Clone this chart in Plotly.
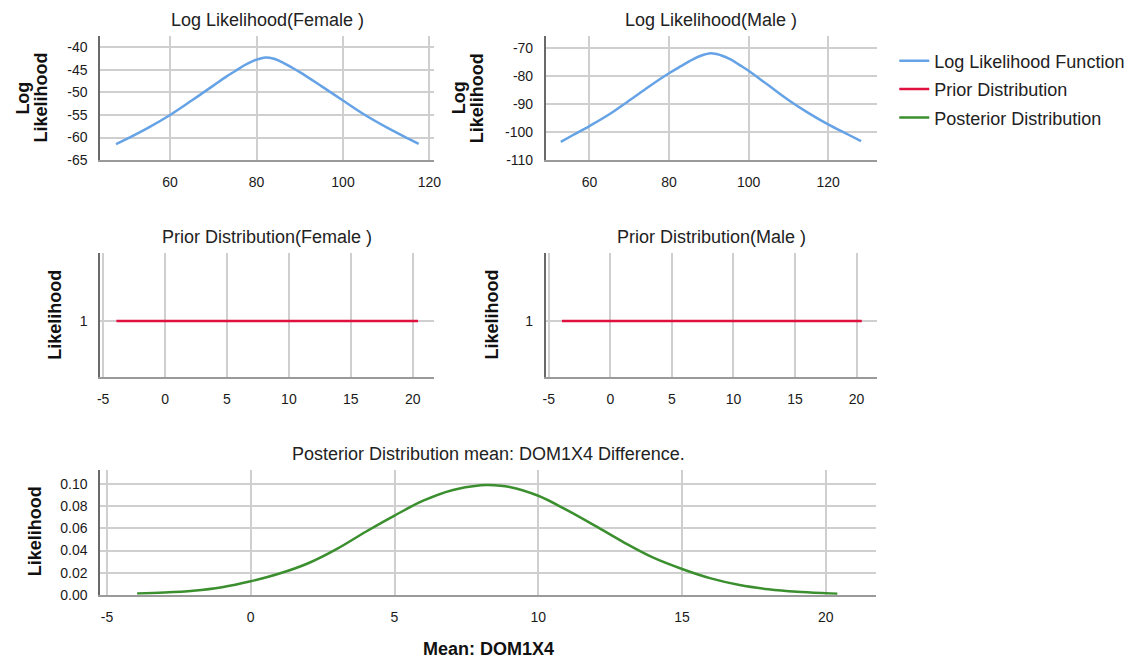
import plotly.graph_objects as go

# ---------------- data ----------------
female_mean = [47.5, 50, 55, 60, 65, 70, 73, 75, 77, 79, 80.5, 82.2, 84, 86, 88, 90,
               95, 100, 105, 110, 115, 117.5]
female_loglik = [-61.45, -60.3, -57.8, -55.0, -51.8, -48.5, -46.5, -45.3, -44.1, -43.1, -42.6,
                 -42.25, -42.55, -43.35, -44.4, -45.5, -48.6, -51.8, -54.95, -57.7, -60.2, -61.4]

male_mean = [52.8, 56, 60, 65, 70, 75, 80, 83, 86, 88, 90.5, 93, 95.5, 98, 100, 105, 110,
             115, 120, 125, 128.3]
male_loglik = [-103.5, -101.0, -97.9, -93.7, -88.8, -83.8, -79.1, -76.6, -74.2, -72.9, -72.0,
               -72.7, -74.2, -76.4, -78.2, -83.4, -88.6, -93.2, -97.3, -100.9, -103.3]

prior_x = [-3.93, 20.43]
prior_female = [1, 1]
prior_male = [1, 1]

post_x = [-3.95, -3, -2, -1, 0, 1, 2, 3, 4, 5, 6, 7, 8, 8.25, 9, 10, 11, 12, 13, 14,
          15, 16, 17, 18, 19, 20, 20.4]
post_y = [0.0012, 0.0020, 0.0036, 0.0068, 0.0122, 0.0192, 0.0285, 0.0415, 0.0570, 0.0716,
          0.0850, 0.0945, 0.0990, 0.0992, 0.0975, 0.0895, 0.0765, 0.0620, 0.0470, 0.0335,
          0.0233, 0.0148, 0.0088, 0.0050, 0.0027, 0.0014, 0.0010]

top_x_ticks = [60, 80, 100, 120]
diff_x_ticks = [-5, 0, 5, 10, 15, 20]
diff_x_text = ["-5", "0", "5", "10", "15", "20"]
female_y_ticks = [-65, -60, -55, -50, -45, -40]
female_y_text = ["-65", "-60", "-55", "-50", "-45", "-40"]
male_y_ticks = [-110, -100, -90, -80, -70]
male_y_text = ["-110", "-100", "-90", "-80", "-70"]
prior_y_ticks = [1]
post_y_ticks = [0.0, 0.02, 0.04, 0.06, 0.08, 0.10]
post_y_text = ["0.00", "0.02", "0.04", "0.06", "0.08", "0.10"]

titles = ["Log Likelihood(Female )", "Log Likelihood(Male )",
          "Prior Distribution(Female )", "Prior Distribution(Male )",
          "Posterior Distribution mean: DOM1X4 Difference."]
legend_names = ["Log Likelihood Function", "Prior Distribution", "Posterior Distribution"]

# ---------------- styling ----------------
W, H = 1134, 668
BLUE = "#66A3E6"
RED = "#E0103F"
GREEN = "#3B8F2F"
GRID = "#CFCFCF"
FONT = "Liberation Sans, Arial, sans-serif"

def dx(px0, px1):
    return [px0 / W, px1 / W]

def dy(py_top, py_bot):
    return [1 - py_bot / H, 1 - py_top / H]

fig = go.Figure()

fig.add_trace(go.Scatter(x=female_mean, y=female_loglik, mode="lines",
                         line=dict(color=BLUE, width=2.5, shape="spline", smoothing=1.0),
                         name=legend_names[0], legendgroup="a", xaxis="x", yaxis="y"))
fig.add_trace(go.Scatter(x=male_mean, y=male_loglik, mode="lines",
                         line=dict(color=BLUE, width=2.5, shape="spline", smoothing=1.0),
                         name=legend_names[0], legendgroup="a", showlegend=False, xaxis="x2", yaxis="y2"))
fig.add_trace(go.Scatter(x=prior_x, y=prior_female, mode="lines", line=dict(color=RED, width=2.5),
                         name=legend_names[1], legendgroup="b", xaxis="x3", yaxis="y3"))
fig.add_trace(go.Scatter(x=prior_x, y=prior_male, mode="lines", line=dict(color=RED, width=2.5),
                         name=legend_names[1], legendgroup="b", showlegend=False, xaxis="x4", yaxis="y4"))
fig.add_trace(go.Scatter(x=post_x, y=post_y, mode="lines",
                         line=dict(color=GREEN, width=2.5, shape="spline", smoothing=1.0),
                         name=legend_names[2], legendgroup="c", xaxis="x5", yaxis="y5"))

tickfont = dict(family=FONT, size=14, color="#1A1A1A")

def xax(domain, anchor, rng, tickvals, ticktext=None):
    d = dict(domain=domain, anchor=anchor, range=rng, tickvals=tickvals,
             showgrid=True, gridcolor=GRID, gridwidth=1.5, zeroline=False,
             showline=True, linecolor="#9A9A9A", linewidth=2, ticks="",
             ticklabelstandoff=8, tickfont=tickfont, fixedrange=True)
    if ticktext is not None:
        d["ticktext"] = ticktext
    return d

def yax(domain, anchor, rng, tickvals, ticktext=None):
    d = dict(domain=domain, anchor=anchor, range=rng, tickvals=tickvals,
             showgrid=True, gridcolor=GRID, gridwidth=1.5, zeroline=False,
             showline=True, linecolor="#6A6A6A", linewidth=1.5, ticks="",
             ticklabelstandoff=8, tickfont=tickfont, fixedrange=True)
    if ticktext is not None:
        d["ticktext"] = ticktext
    return d

fig.update_layout(
    width=W, height=H, margin=dict(l=0, r=0, t=0, b=0),
    plot_bgcolor="white", paper_bgcolor="white",
    font=dict(family=FONT, color="#222222"),
    xaxis=xax(dx(98, 435), "y", [43.8, 121], top_x_ticks),
    yaxis=yax(dy(36, 162), "x", [-65, -37.4], female_y_ticks, female_y_text),
    xaxis2=xax(dx(548, 883), "y2", [49, 132.4], top_x_ticks),
    yaxis2=yax(dy(36, 162), "x2", [-110, -65.7], male_y_ticks, male_y_text),
    xaxis3=xax(dx(98, 435), "y3", [-5.25, 21.7], diff_x_ticks, diff_x_text),
    yaxis3=yax(dy(256, 382), "x3", [0, 2.21], prior_y_ticks),
    xaxis4=xax(dx(548, 883), "y4", [-5.25, 21.7], diff_x_ticks, diff_x_text),
    yaxis4=yax(dy(256, 382), "x4", [0, 2.21], prior_y_ticks),
    xaxis5=xax(dx(98, 882), "y5", [-5.24, 21.76], diff_x_ticks, diff_x_text),
    yaxis5=yax(dy(476, 602), "x5", [0, 0.1125], post_y_ticks, post_y_text),
    legend=dict(x=900 / W, y=1 - 43 / H, xanchor="left", yanchor="top",
                font=dict(family=FONT, size=18, color="#222222"),
                traceorder="grouped", tracegroupgap=2, bgcolor="rgba(0,0,0,0)"),
)

ann = []
title_pos = [(267, 20), (715, 20), (267, 240), (715, 240), (490, 460)]
for t, (px, py) in zip(titles, title_pos):
    ann.append(dict(text=t, x=px / W, y=1 - py / H, xref="paper", yref="paper",
                    xanchor="center", yanchor="middle", showarrow=False,
                    font=dict(family=FONT, size=18, color="#222222")))

ytitle_pos = [("Log", 20, 99), ("Likelihood", 38, 99), ("Log", 460, 99), ("Likelihood", 478, 99),
              ("Likelihood", 53, 318), ("Likelihood", 494, 318), ("Likelihood", 32, 538)]
for t, px, py in ytitle_pos:
    ann.append(dict(text="<b>" + t + "</b>", x=px / W, y=1 - py / H, xref="paper", yref="paper",
                    xanchor="center", yanchor="middle", showarrow=False, textangle=-90,
                    font=dict(family=FONT, size=18, color="#111111")))

ann.append(dict(text="<b>Mean: DOM1X4</b>", x=490 / W, y=1 - 657 / H, xref="paper", yref="paper",
                xanchor="center", yanchor="middle", showarrow=False,
                font=dict(family=FONT, size=18, color="#111111")))
fig.update_layout(annotations=ann)

fig.write_html("out.html", config={"displayModeBar": False},
               post_script="document.body.style.margin='0';document.body.style.overflow='hidden';")
